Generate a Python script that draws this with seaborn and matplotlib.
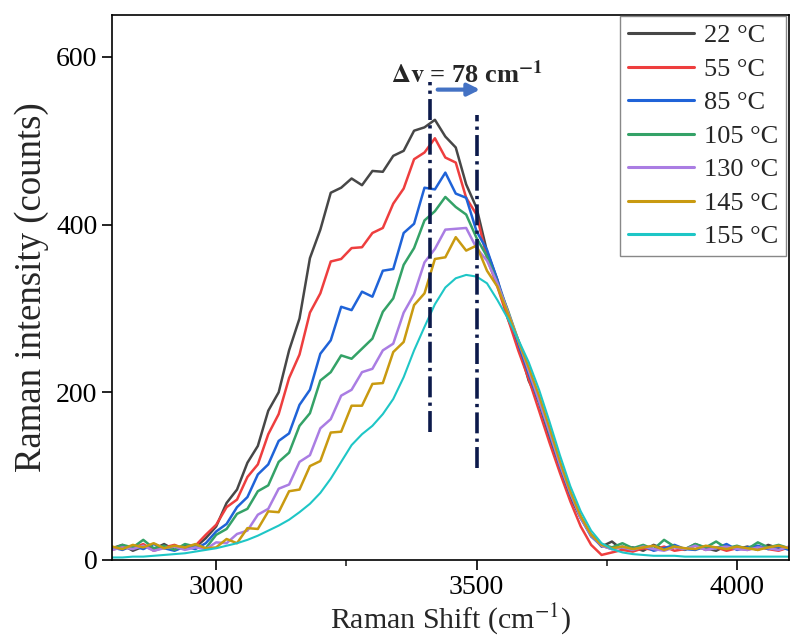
import numpy as np
import pandas as pd
import matplotlib
matplotlib.use('Agg')
import matplotlib.pyplot as plt
import seaborn as sns

# Raman shift grid (cm-1)
shift = list(range(2800, 4101, 20))

temps = ['22 °C', '55 °C', '85 °C', '105 °C', '130 °C', '145 °C', '155 °C']

t22 = [14, 18, 11, 16, 13, 19, 12, 17, 15, 26,
       40, 68, 84, 116, 136, 178, 200, 250, 288, 360,
       394, 438, 444, 455, 447, 464, 463, 482, 488, 512,
       516, 525, 505, 492, 448, 420, 368, 334, 288, 258,
       214, 188, 144, 112, 75, 50, 30, 16, 22, 12,
       15, 11, 18, 13, 16, 12, 19, 14, 11, 17,
       13, 16, 12, 18, 14, 15]
t55 = [12, 16, 14, 19, 11, 15, 18, 13, 17, 30,
       42, 63, 72, 99, 114, 150, 174, 217, 245, 295,
       318, 356, 359, 372, 373, 390, 396, 425, 443, 478,
       486, 503, 480, 474, 432, 412, 360, 326, 288, 250,
       216, 178, 140, 104, 70, 40, 18, 6, 9, 12,
       10, 14, 12, 16, 11, 13, 17, 12, 15, 11,
       14, 12, 16, 13, 11, 15]
t85 = [15, 12, 17, 13, 19, 14, 11, 16, 13, 20,
       34, 43, 63, 75, 102, 114, 142, 151, 185, 203,
       246, 262, 302, 298, 320, 314, 345, 347, 390, 401,
       444, 442, 462, 437, 432, 392, 370, 334, 296, 258,
       222, 188, 150, 112, 78, 50, 28, 17, 13, 16,
       12, 17, 11, 14, 18, 13, 12, 16, 14, 19,
       12, 15, 17, 13, 16, 12]
t105 = [13, 18, 15, 24, 14, 17, 12, 19, 16, 14,
        30, 37, 55, 61, 82, 89, 117, 128, 160, 175,
        214, 224, 244, 240, 252, 264, 296, 312, 352, 372,
        405, 416, 433, 421, 412, 384, 362, 330, 298, 262,
        226, 190, 152, 115, 80, 52, 30, 19, 15, 20,
        14, 18, 13, 24, 16, 13, 19, 15, 22, 14,
        17, 13, 21, 15, 18, 14]
t130 = [12, 15, 13, 17, 11, 14, 16, 12, 15, 13,
        21, 20, 31, 35, 54, 61, 85, 90, 117, 125,
        157, 168, 196, 203, 224, 228, 250, 258, 295, 317,
        355, 371, 394, 395, 396, 372, 357, 330, 296, 262,
        226, 190, 153, 114, 80, 50, 29, 17, 13, 15,
        12, 16, 13, 11, 15, 13, 17, 12, 14, 16,
        13, 12, 15, 14, 12, 16]
t145 = [16, 13, 18, 15, 20, 14, 17, 15, 19, 14,
        15, 25, 20, 38, 37, 58, 57, 82, 84, 112,
        118, 152, 153, 184, 184, 210, 211, 248, 260, 304,
        318, 359, 361, 385, 369, 375, 345, 326, 294, 262,
        230, 196, 158, 118, 82, 52, 30, 18, 14, 16,
        13, 15, 17, 12, 16, 14, 13, 17, 15, 13,
        16, 14, 12, 15, 17, 14]
t155 = [3, 3, 4, 4, 5, 6, 7, 8, 10, 12,
        14, 17, 20, 24, 29, 35, 41, 48, 57, 67,
        80, 97, 117, 137, 150, 160, 174, 192, 218, 250,
        278, 305, 325, 336, 340, 338, 330, 310, 288, 263,
        236, 203, 165, 125, 88, 58, 35, 20, 13, 9,
        7, 6, 5, 5, 5, 4, 4, 4, 4, 4,
        4, 4, 4, 4, 4, 4]

colors = ['#474747', '#EE3E3E', '#1F63D8', '#34A267', '#AA7DE3', '#C99A10', '#1EC6C6']

# peak positions marked with dash-dot lines
peak_low = 3410
peak_high = 3500

series = [t22, t55, t85, t105, t130, t145, t155]
df = pd.concat([pd.DataFrame({'shift': shift, 'counts': s, 'temp': t})
                for s, t in zip(series, temps)], ignore_index=True)

sns.set_style('ticks')
plt.rcParams['font.family'] = ['Liberation Serif', 'DejaVu Serif']
plt.rcParams['mathtext.fontset'] = 'stix'

fig = plt.figure(figsize=(7.9, 6.41), dpi=100)
ax = fig.add_axes([0.1418, 0.1264, 0.857, 0.8502])

sns.lineplot(data=df, x='shift', y='counts', hue='temp', hue_order=temps,
             palette=colors, estimator=None, sort=False, linewidth=1.8, ax=ax)
ax.lines[len(temps) - 1].set_linewidth(1.5)

ax.plot([peak_low, peak_low], [153, 570], color='#0C1A4B', lw=2.6,
        linestyle=(0, (5.8, 1.45, 0.9, 1.45)))
ax.plot([peak_high, peak_high], [110, 531], color='#0C1A4B', lw=2.6,
        linestyle=(0, (5.8, 1.45, 0.9, 1.45)))
ax.annotate('', xy=(3512, 561), xytext=(3420, 561),
            arrowprops=dict(arrowstyle='-|>', color='#4472C4', lw=3, mutation_scale=18))
ax.text(3335, 579, r'$\mathbf{\Delta v}$ = 78 cm$^{\mathbf{-1}}$', fontsize=19,
        fontweight='bold', va='center', ha='left')

ax.set_xlim(2800, 4100)
ax.set_ylim(0, 650)
ax.set_xticks([3000, 3500, 4000])
ax.set_xticks([3250, 3750], minor=True)
ax.set_yticks([0, 200, 400, 600])
ax.tick_params(axis='both', which='major', direction='out', length=7, width=1.2,
               labelsize=20, colors='black')
ax.tick_params(axis='x', which='minor', direction='out', length=4, width=1.2)
for sp in ax.spines.values():
    sp.set_linewidth(1.2)
    sp.set_color('black')

ax.set_xlabel(r'Raman Shift (cm$^{-1}$)', fontsize=21.5, labelpad=1)
ax.set_ylabel('Raman intensity (counts)', fontsize=26.5, labelpad=5)

handles, labels = ax.get_legend_handles_labels()
leg = ax.legend(handles[:len(temps)], temps, loc='upper right', bbox_to_anchor=(0.995, 0.998),
                borderaxespad=0, fontsize=19, fancybox=False, framealpha=1,
                edgecolor='#888888', handlelength=2.5, handletextpad=0.35,
                labelspacing=0.38, borderpad=0.3)
for h in leg.get_lines():
    h.set_linewidth(2.2)
leg.get_frame().set_linewidth(1.0)

fig.savefig('out.png', dpi=100)
